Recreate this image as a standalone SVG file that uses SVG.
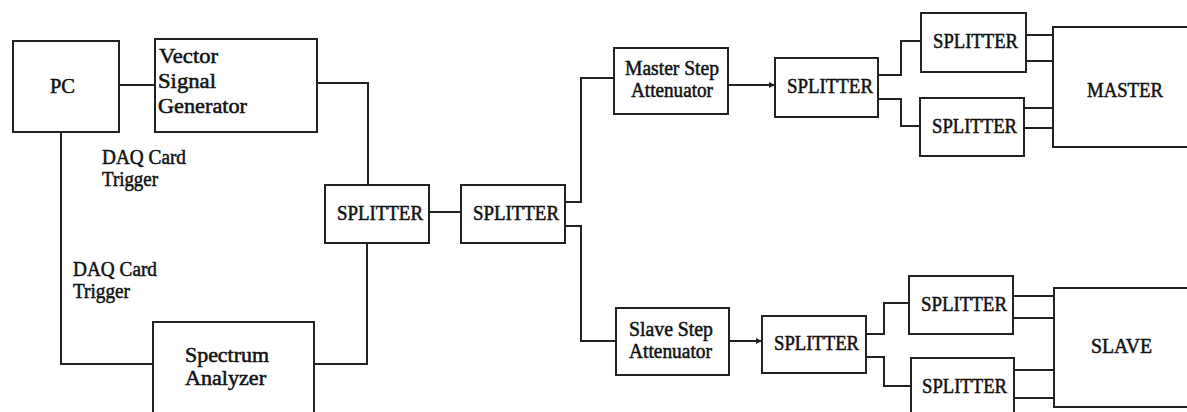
<svg xmlns="http://www.w3.org/2000/svg" width="1187" height="412" viewBox="0 0 1187 412">
<defs>
<style>
.box{fill:#fff;stroke:#222;stroke-width:2}
.ln{fill:none;stroke:#222;stroke-width:2}
.t{font-family:'Liberation Serif','DejaVu Serif',serif;font-size:20px;fill:#111;stroke:#111;stroke-width:0.5}
</style>
<marker id="ah" viewBox="0 0 6 6" refX="6" refY="3" markerWidth="3" markerHeight="3" orient="auto"><path d="M0,0 L6,3 L0,6 z" fill="#222"/></marker>
</defs>
<rect width="1187" height="412" fill="#fff"/>
<g id="connectors">
<path class="ln" d="M119,85 H155"/>
<path class="ln" d="M317,83 H368 V185"/>
<path class="ln" d="M61,132 V364 H153"/>
<path class="ln" d="M314,364 H367 V243"/>
<path class="ln" d="M429,212 H461"/>
<path class="ln" d="M565,202 H581 V78 H614"/>
<path class="ln" d="M565,226 H581 V341 H616"/>
<path class="ln" d="M728,85 H775" marker-end="url(#ah)"/>
<path class="ln" d="M878,75 H901 V41 H921"/>
<path class="ln" d="M878,99 H901 V126 H920"/>
<path class="ln" d="M1026,35 H1053 M1026,61 H1053"/>
<path class="ln" d="M1024,108 H1053 M1024,128 H1053"/>
<path class="ln" d="M729,341 H762" marker-end="url(#ah)"/>
<path class="ln" d="M866,334 H884 V303 H909"/>
<path class="ln" d="M866,357 H884 V386 H911"/>
<path class="ln" d="M1013,296 H1054 M1013,318 H1054"/>
<path class="ln" d="M1014,370 H1054 M1014,398 H1054"/>
</g>
<g class="t" font-family="Liberation Serif, DejaVu Serif, serif">
<g id="pc"><rect class="box" x="13" y="41" width="106" height="91"/><text class="t" x="50" y="93" textLength="25" lengthAdjust="spacingAndGlyphs">PC</text></g>
<g id="vsg"><rect class="box" x="155" y="39" width="162" height="93"/>
<text class="t" x="159" y="63" textLength="59" lengthAdjust="spacingAndGlyphs">Vector</text>
<text class="t" x="158" y="88" textLength="58" lengthAdjust="spacingAndGlyphs">Signal</text>
<text class="t" x="158" y="113" textLength="89" lengthAdjust="spacingAndGlyphs">Generator</text></g>
<g id="daq1"><text class="t" x="102" y="164" textLength="84" lengthAdjust="spacingAndGlyphs">DAQ Card</text><text class="t" x="102" y="186" textLength="56" lengthAdjust="spacingAndGlyphs">Trigger</text></g>
<g id="daq2"><text class="t" x="73" y="276" textLength="84" lengthAdjust="spacingAndGlyphs">DAQ Card</text><text class="t" x="73" y="298" textLength="57" lengthAdjust="spacingAndGlyphs">Trigger</text></g>
<g id="sa"><rect class="box" x="153" y="322" width="161" height="100"/>
<text class="t" x="185" y="362" textLength="84" lengthAdjust="spacingAndGlyphs">Spectrum</text>
<text class="t" x="185" y="385" textLength="81" lengthAdjust="spacingAndGlyphs">Analyzer</text></g>
<g id="spl1"><rect class="box" x="325" y="185" width="104" height="58"/><text class="t" x="337" y="220" textLength="86" lengthAdjust="spacingAndGlyphs">SPLITTER</text></g>
<g id="spl2"><rect class="box" x="461" y="185" width="104" height="58"/><text class="t" x="473" y="220" textLength="86" lengthAdjust="spacingAndGlyphs">SPLITTER</text></g>
<g id="msa"><rect class="box" x="614" y="48" width="114" height="66"/>
<text class="t" x="625" y="75" textLength="94" lengthAdjust="spacingAndGlyphs">Master Step</text>
<text class="t" x="631" y="97" textLength="82" lengthAdjust="spacingAndGlyphs">Attenuator</text></g>
<g id="spl3"><rect class="box" x="775" y="58" width="103" height="59"/><text class="t" x="787" y="93" textLength="86" lengthAdjust="spacingAndGlyphs">SPLITTER</text></g>
<g id="spl4"><rect class="box" x="921" y="13" width="105" height="59"/><text class="t" x="933" y="48" textLength="85" lengthAdjust="spacingAndGlyphs">SPLITTER</text></g>
<g id="spl5"><rect class="box" x="920" y="98" width="104" height="58"/><text class="t" x="932" y="133" textLength="85" lengthAdjust="spacingAndGlyphs">SPLITTER</text></g>
<g id="master"><rect class="box" x="1053" y="27" width="140" height="120"/><text class="t" x="1087" y="97" textLength="76" lengthAdjust="spacingAndGlyphs">MASTER</text></g>
<g id="ssa"><rect class="box" x="616" y="308" width="113" height="67"/>
<text class="t" x="629" y="336" textLength="84" lengthAdjust="spacingAndGlyphs">Slave Step</text>
<text class="t" x="629" y="358" textLength="83" lengthAdjust="spacingAndGlyphs">Attenuator</text></g>
<g id="spl6"><rect class="box" x="762" y="316" width="104" height="57"/><text class="t" x="774" y="350" textLength="85" lengthAdjust="spacingAndGlyphs">SPLITTER</text></g>
<g id="spl7"><rect class="box" x="909" y="276" width="104" height="58"/><text class="t" x="921" y="311" textLength="86" lengthAdjust="spacingAndGlyphs">SPLITTER</text></g>
<g id="spl8"><rect class="box" x="911" y="358" width="103" height="70"/><text class="t" x="922" y="393" textLength="85" lengthAdjust="spacingAndGlyphs">SPLITTER</text></g>
<g id="slave"><rect class="box" x="1054" y="288" width="140" height="119"/><text class="t" x="1091" y="353" textLength="61" lengthAdjust="spacingAndGlyphs">SLAVE</text></g>
</g>
</svg>
